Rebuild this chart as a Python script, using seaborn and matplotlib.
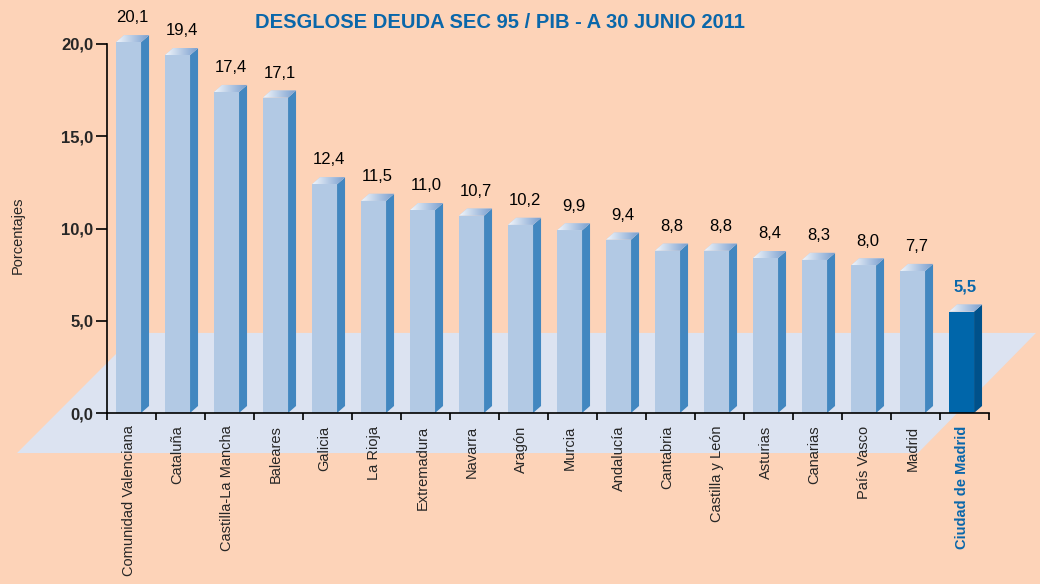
import numpy as np
import matplotlib
matplotlib.use('Agg')
import matplotlib.pyplot as plt
import seaborn as sns
from matplotlib.patches import Polygon
from matplotlib.colors import LinearSegmentedColormap

# =============================================================================
# Data
# =============================================================================

regions = ['Comunidad Valenciana', 'Cataluña', 'Castilla-La Mancha', 'Baleares',
           'Galicia', 'La Rioja', 'Extremadura', 'Navarra', 'Aragón', 'Murcia',
           'Andalucía', 'Cantabria', 'Castilla y León', 'Asturias', 'Canarias',
           'País Vasco', 'Madrid', 'Ciudad de Madrid']
values = [20.1, 19.4, 17.4, 17.1, 12.4, 11.5, 11.0, 10.7, 10.2, 9.9,
          9.4, 8.8, 8.8, 8.4, 8.3, 8.0, 7.7, 5.5]
yticks = [0, 5, 10, 15, 20]
ytick_labels = ['0,0', '5,0', '10,0', '15,0', '20,0']

# =============================================================================
# Style
# =============================================================================

bg = '#FDD3B8'
floor_c = '#DCE3F1'
front_c = '#B2C9E4'
side_c = '#4287C0'
dark_front = '#0066AA'
dark_side = '#00518A'
blue_txt = '#0A67AA'

sns.set_style('white')
plt.rcParams['font.family'] = ['Liberation Sans', 'DejaVu Sans']

fig = plt.figure(figsize=(10.4, 5.84), dpi=100, facecolor=bg)
ax = fig.add_axes([107/1040, 1-413/584, (989-107)/1040, (413-44)/584])
ax.set_facecolor('none')
ax.set_axisbelow(False)

n = len(values)
w = 0.51          # front width
dx = 0.163        # depth, x (data units)
dy = 0.38         # depth, y (data units)

palette = [front_c]*(n-1) + [dark_front]
sns.barplot(x=regions, y=values, hue=regions, palette=palette, legend=False,
            width=w, saturation=1, linewidth=0, ax=ax, zorder=3)
for p in ax.patches:
    p.set_clip_on(False)

# floor
floor = Polygon([(-2.276, -2.17), (0.173, 4.34), (18.52, 4.34), (16.11, -2.17)],
                closed=True, facecolor=floor_c, edgecolor='none',
                clip_on=False, zorder=1)
ax.add_patch(floor)

# sides + tops
top_cmap = LinearSegmentedColormap.from_list('top', ['#F2F6FB', '#7A9FCF'])
grad = np.linspace(0, 1, 50).reshape(1, -1)
for i, v in enumerate(values):
    x0, x1 = i - w/2, i + w/2
    sc = dark_side if i == n-1 else side_c
    side = Polygon([(x1, 0), (x1+dx, dy), (x1+dx, v+dy), (x1, v)],
                   facecolor=sc, edgecolor='none', clip_on=False, zorder=3)
    ax.add_patch(side)
    top = Polygon([(x0, v), (x1, v), (x1+dx, v+dy), (x0+dx, v+dy)],
                  facecolor='#B8CCE6', edgecolor='none', clip_on=False, zorder=3)
    ax.add_patch(top)
    im = ax.imshow(grad, cmap=top_cmap, aspect='auto',
                   extent=(x0, x1+dx, v, v+dy), zorder=3.1)
    im.set_clip_path(top)
    im.set_clip_box(fig.bbox)
    lbl_c = blue_txt if i == n-1 else 'black'
    ax.annotate(f'{v:.1f}'.replace('.', ','), (i + 0.08, v + dy), xytext=(0, 7),
                textcoords='offset points', ha='center', va='bottom',
                fontsize=12, color=lbl_c, annotation_clip=False,
                fontweight='bold' if i == n-1 else 'normal', zorder=5)

ax.set_xlim(-0.44, n - 0.44)
ax.set_ylim(0, 20)

# axes
for s in ['top', 'right']:
    ax.spines[s].set_visible(False)
for s in ['left', 'bottom']:
    ax.spines[s].set_color('black')
    ax.spines[s].set_linewidth(1.2)
    ax.spines[s].set_zorder(4)

ax.set_yticks(yticks, ytick_labels, fontsize=12, fontweight='bold')
ax.tick_params(axis='y', direction='out', length=8, width=1.2, left=True,
               pad=2, color='black')

ax.set_xticks(range(n), regions, rotation=90, fontsize=10.5)
ax.set_xticks(np.arange(n + 1) - 0.44, minor=True)
ax.tick_params(axis='x', which='major', length=0, pad=9)
ax.tick_params(axis='x', which='minor', direction='out', length=5, width=1.2,
               bottom=True, color='black')
xl = ax.get_xticklabels()
xl[-1].set_color(blue_txt)
xl[-1].set_fontweight('bold')
ax.set_xlabel('')
ax.set_ylabel('')

fig.text(18/1040, 1-235/584, 'Porcentajes', rotation=90, ha='center',
         va='center', fontsize=10.5)
fig.text(500/1040, 1-23/584, 'DESGLOSE DEUDA SEC 95 / PIB - A 30 JUNIO 2011',
         ha='center', va='center', fontsize=14.5, fontweight='bold',
         color=blue_txt)

fig.savefig('out.png', dpi=100, facecolor=bg)
